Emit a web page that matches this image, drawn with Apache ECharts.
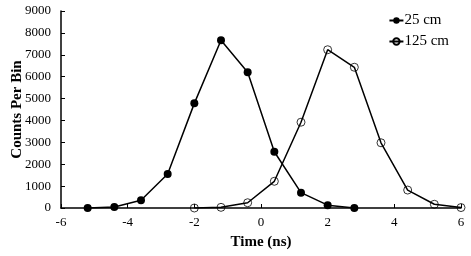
<!DOCTYPE html>
<html><head><meta charset="utf-8">
<script src="https://cdn.jsdelivr.net/npm/echarts@6/dist/echarts.min.js"></script>
<style>html,body{margin:0;padding:0;background:#fff}#c{width:471px;height:256px}</style>
</head><body><div id="c"></div>
<script>
const time25 = [-5.2, -4.4, -3.6, -2.8, -2.0, -1.2, -0.4, 0.4, 1.2, 2.0, 2.8];
const counts25 = [0, 50, 350, 1550, 4780, 7660, 6200, 2570, 700, 130, 0];
const time125 = [-2.0, -1.2, -0.4, 0.4, 1.2, 2.0, 2.8, 3.6, 4.4, 5.2, 6.0];
const counts125 = [0, 30, 240, 1220, 3920, 7230, 6430, 2980, 820, 170, 20];
const seriesNames = ['25 cm', '125 cm'];
const xTicks = [-6, -4, -2, 0, 2, 4, 6];
const yTicks = [0, 1000, 2000, 3000, 4000, 5000, 6000, 7000, 8000, 9000];

const font = '"Liberation Serif", "Times New Roman", serif';
const chart = echarts.init(document.getElementById('c'), null, {renderer: 'canvas'});
chart.setOption({
  animation: false,
  textStyle: {fontFamily: font},
  grid: {left: 61, right: 10, top: 11, bottom: 48, containLabel: false, outerBoundsMode: 'none'},
  legend: {
    right: 17, top: 8, orient: 'vertical', itemGap: 6, itemWidth: 14, itemHeight: 8,
    textStyle: {fontFamily: font, fontSize: 15, color: '#000', padding: [0, 0, 0, -4]},
    data: seriesNames
  },
  xAxis: {
    type: 'value', min: xTicks[0], max: xTicks[xTicks.length - 1], interval: 2,
    name: 'Time (ns)', nameLocation: 'middle', nameGap: 27, nameMoveOverlap: false,
    nameTextStyle: {fontFamily: font, fontSize: 15, fontWeight: 'bold', color: '#000'},
    axisLine: {onZero: false, lineStyle: {color: '#000', width: 1.5}},
    axisTick: {inside: true, length: 4, lineStyle: {color: '#000'}},
    axisLabel: {fontFamily: font, fontSize: 13, color: '#000', margin: 8},
    splitLine: {show: false}
  },
  yAxis: {
    type: 'value', min: yTicks[0], max: yTicks[yTicks.length - 1], interval: 1000,
    name: 'Counts Per Bin', nameLocation: 'middle', nameGap: 36, nameMoveOverlap: false,
    nameTextStyle: {fontFamily: font, fontSize: 15, fontWeight: 'bold', color: '#000'},
    axisLine: {show: true, onZero: false, lineStyle: {color: '#000', width: 1.5}},
    axisTick: {show: true, inside: true, length: 4, lineStyle: {color: '#000'}},
    axisLabel: {fontFamily: font, fontSize: 13, color: '#000', margin: 10, formatter: v => String(v)},
    splitLine: {show: false}
  },
  series: [
    {
      name: seriesNames[0], type: 'line',
      data: time25.map((t, i) => [t, counts25[i]]),
      symbol: 'circle', symbolSize: 8,
      itemStyle: {color: '#000'},
      lineStyle: {color: '#000', width: 1.5}
    },
    {
      name: seriesNames[1], type: 'line',
      data: time125.map((t, i) => [t, counts125[i]]),
      symbol: 'circle', symbolSize: 8,
      itemStyle: {color: 'rgba(0,0,0,0)', borderColor: '#000', borderWidth: 0.8},
      lineStyle: {color: '#000', width: 1.5}
    }
  ]
});
</script></body></html>
